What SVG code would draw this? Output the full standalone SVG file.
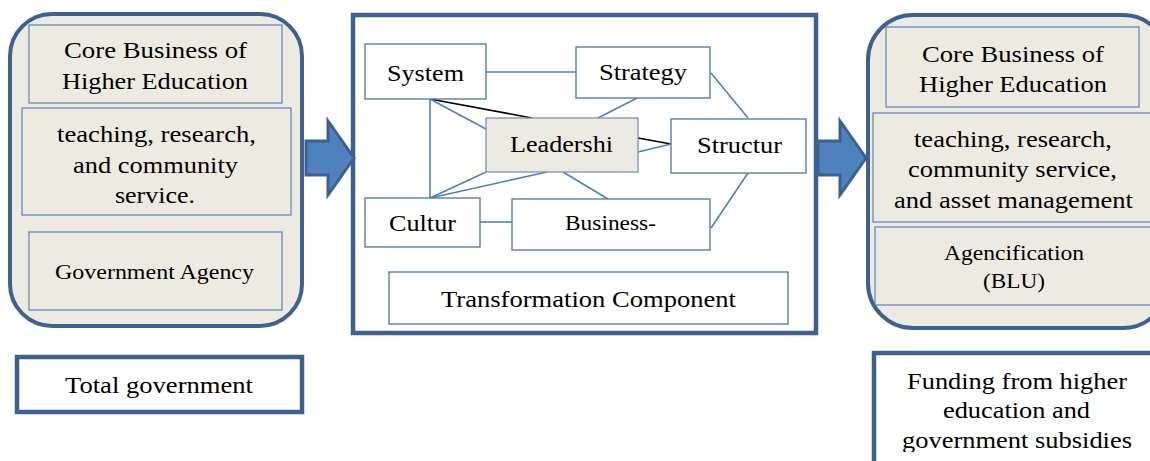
<svg xmlns="http://www.w3.org/2000/svg" width="1150" height="461" viewBox="0 0 1150 461">
<defs>
<style>
.outer{fill:#EDEBE1;stroke:#3C6190;stroke-width:4}
.inner{fill:#EDEBE1;stroke:#5A80B8;stroke-width:1.2}
.frame{fill:#fff;stroke:#3C6190;stroke-width:4.5}
.node{fill:#fff;stroke:#4A74B0;stroke-width:1.3}
.lead{fill:#EDEBE1;stroke:#7A93B8;stroke-width:1.3}
.bl{stroke:#4F81BD;stroke-width:1.6;fill:none}
.bk{stroke:#000;stroke-width:1.6;fill:none}
.barrow{fill:#4F81BD;stroke:#3C6190;stroke-width:3;stroke-linejoin:miter}
</style>
<clipPath id="fundClip"><rect x="870" y="340" width="290" height="112"/></clipPath>
</defs>
<rect width="1150" height="461" fill="#fff"/>

<g font-family="'Liberation Serif', 'Times New Roman', serif" fill="#000" font-size="24">

<g id="left-group">
<rect class="outer" x="10" y="14" width="292" height="312" rx="42"/>
<g id="left-core">
<rect class="inner" x="29" y="25" width="253" height="78"/>
<text x="64" y="58" textLength="183" lengthAdjust="spacingAndGlyphs">Core Business of</text>
<text x="62" y="89" textLength="186" lengthAdjust="spacingAndGlyphs">Higher Education</text>
</g>
<g id="left-tasks">
<rect class="inner" x="22" y="108" width="269" height="107"/>
<text x="57" y="142" textLength="199" lengthAdjust="spacingAndGlyphs">teaching, research,</text>
<text x="73" y="173" textLength="165" lengthAdjust="spacingAndGlyphs">and community</text>
<text x="115" y="203" textLength="80" lengthAdjust="spacingAndGlyphs">service.</text>
</g>
<g id="left-agency">
<rect class="inner" x="29" y="232" width="253" height="78"/>
<text x="55" y="279" font-size="21" textLength="199" lengthAdjust="spacingAndGlyphs">Government Agency</text>
</g>
</g>

<g id="total-government">
<rect class="frame" x="17" y="357" width="285" height="55"/>
<text x="65" y="393" textLength="188" lengthAdjust="spacingAndGlyphs">Total government</text>
</g>

<g id="transformation">
<rect class="frame" x="353" y="15" width="463" height="318"/>
</g>

<g id="connectors">
<path class="barrow" d="M306,141 H328 V121 L354,158 L328,195 V175 H306 Z"/>
<path class="barrow" d="M818,141 H840 V121 L866,158 L840,195 V175 H818 Z"/>
<line class="bl" x1="486" y1="72" x2="576" y2="72"/>
<line class="bl" x1="711" y1="73" x2="748" y2="118"/>
<line class="bl" x1="637" y1="98" x2="598" y2="118"/>
<line class="bl" x1="430" y1="99" x2="430" y2="198"/>
<line class="bk" x1="430" y1="99" x2="532" y2="118"/>
<line class="bl" x1="430" y1="99" x2="486" y2="129"/>
<line class="bk" x1="638" y1="138" x2="671" y2="144"/>
<line class="bl" x1="638" y1="152" x2="671" y2="144"/>
<line class="bl" x1="486" y1="172" x2="430" y2="198"/>
<line class="bl" x1="547" y1="172" x2="430" y2="198"/>
<line class="bl" x1="563" y1="172" x2="608" y2="199"/>
<line class="bl" x1="480" y1="222" x2="512" y2="222"/>
<line class="bl" x1="748" y1="173" x2="711" y2="228"/>
</g>

<g id="system">
<rect class="node" x="365" y="44" width="121" height="55"/>
<text x="387" y="81" textLength="77" lengthAdjust="spacingAndGlyphs">System</text>
</g>
<g id="strategy">
<rect class="node" x="576" y="47" width="134" height="51"/>
<text x="599" y="80" textLength="88" lengthAdjust="spacingAndGlyphs">Strategy</text>
</g>
<g id="leadership">
<rect class="lead" x="486" y="118" width="152" height="54"/>
<text x="510" y="152" textLength="103" lengthAdjust="spacingAndGlyphs">Leadershi</text>
</g>
<g id="structure">
<rect class="node" x="671" y="119" width="135" height="54"/>
<text x="697" y="153" textLength="85" lengthAdjust="spacingAndGlyphs">Structur</text>
</g>
<g id="culture">
<rect class="node" x="365" y="198" width="115" height="49"/>
<text x="389" y="231" textLength="67" lengthAdjust="spacingAndGlyphs">Cultur</text>
</g>
<g id="business">
<rect class="node" x="512" y="199" width="198" height="51"/>
<text x="565" y="230" font-size="21" textLength="91" lengthAdjust="spacingAndGlyphs">Business-</text>
</g>
<g id="transformation-component">
<rect class="node" x="389" y="272" width="399" height="52"/>
<text x="441" y="307" textLength="295" lengthAdjust="spacingAndGlyphs">Transformation Component</text>
</g>

<g id="right-group">
<rect class="outer" x="868" y="15" width="300" height="313" rx="45"/>
<g id="right-core">
<rect class="inner" x="886" y="27" width="253" height="80"/>
<text x="922" y="62" textLength="182" lengthAdjust="spacingAndGlyphs">Core Business of</text>
<text x="919" y="92" textLength="188" lengthAdjust="spacingAndGlyphs">Higher Education</text>
</g>
<g id="right-tasks">
<rect class="inner" x="873" y="113" width="290" height="109"/>
<text x="914" y="147" textLength="198" lengthAdjust="spacingAndGlyphs">teaching, research,</text>
<text x="908" y="177" textLength="209" lengthAdjust="spacingAndGlyphs">community service,</text>
<text x="894" y="208" textLength="239" lengthAdjust="spacingAndGlyphs">and asset management</text>
</g>
<g id="right-agency">
<rect class="inner" x="875" y="227" width="290" height="78"/>
<text x="944" y="260" font-size="21" textLength="140" lengthAdjust="spacingAndGlyphs">Agencification</text>
<text x="983" y="288" font-size="21" textLength="62" lengthAdjust="spacingAndGlyphs">(BLU)</text>
</g>
</g>

<g id="funding">
<rect class="frame" x="874" y="353" width="290" height="120"/>
<g clip-path="url(#fundClip)">
<text x="907" y="389" textLength="220" lengthAdjust="spacingAndGlyphs">Funding from higher</text>
<text x="943" y="418" textLength="147" lengthAdjust="spacingAndGlyphs">education and</text>
<text x="902" y="448" textLength="230" lengthAdjust="spacingAndGlyphs">government subsidies</text>
</g>
</g>

</g>
</svg>
